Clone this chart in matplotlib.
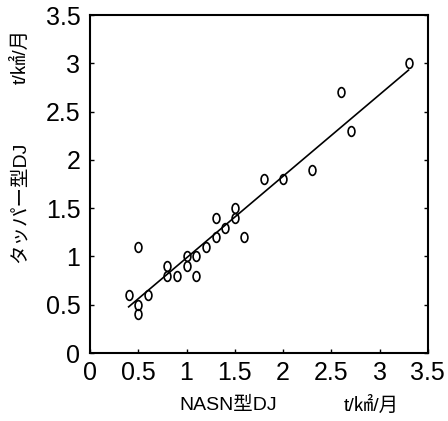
import numpy as np
import matplotlib
matplotlib.use("Agg")
import matplotlib.pyplot as plt
from matplotlib.path import Path
from matplotlib.transforms import Affine2D

plt.rcParams['font.family'] = ['Liberation Sans', 'Noto Sans CJK JP', 'DejaVu Sans']

# NASN型DJ と タッパー型DJ の比較 (t/km2/月)
nasn = [0.4, 0.5, 0.5, 0.5, 0.6, 0.8, 0.8, 0.9, 1.0, 1.0, 1.1, 1.1, 1.2,
        1.3, 1.3, 1.4, 1.5, 1.5, 1.6, 1.8, 2.0, 2.3, 2.6, 2.7, 3.3]
tapper = [0.6, 1.1, 0.5, 0.4, 0.6, 0.9, 0.8, 0.8, 1.0, 0.9, 1.0, 0.8, 1.1,
          1.2, 1.4, 1.3, 1.5, 1.4, 1.2, 1.8, 1.8, 1.9, 2.7, 2.3, 3.0]
ticks = [0, 0.5, 1, 1.5, 2, 2.5, 3, 3.5]
tick_labels = ['0', '0.5', '1', '1.5', '2', '2.5', '3', '3.5']

x = np.array(nasn)
y = np.array(tapper)
a, b = np.polyfit(x, y, 1)
xl = np.array([x.min(), x.max()])

# 縦長の "o" 型マーカー
oval = Path.unit_circle().transformed(Affine2D().scale(0.7, 1.0))

fig = plt.figure(figsize=(4.48, 4.21), dpi=100)
ax = fig.add_axes([0.201, 0.1615, 0.754, 0.8025])
ax.plot(xl, a * xl + b, color='black', lw=1.2)
ax.plot(x, y, linestyle='none', marker=oval, ms=7, mfc='none',
        mec='black', mew=1.2)

ax.set_xlim(0, 3.5)
ax.set_ylim(0, 3.5)
ax.set_xticks(ticks)
ax.set_xticklabels(tick_labels)
ax.set_yticks(ticks)
ax.set_yticklabels(tick_labels)
ax.tick_params(direction='in', length=3, width=1, labelsize=18,
               right=True, top=False, pad=6, colors='black')
ax.tick_params(axis='y', pad=7)
for s in ax.spines.values():
    s.set_linewidth(1.5)

fig.text(0.045, 0.52, 'タッパー型DJ', rotation=90, fontsize=14,
         ha='center', va='center')
fig.text(0.045, 0.865, 't/㎢/月', rotation=90, fontsize=14,
         ha='center', va='center')
fig.text(0.51, 0.036, 'NASN型DJ', fontsize=14, ha='center', va='center')
fig.text(0.828, 0.036, 't/㎢/月', fontsize=14, ha='center', va='center')

fig.savefig('out.png', dpi=100)
